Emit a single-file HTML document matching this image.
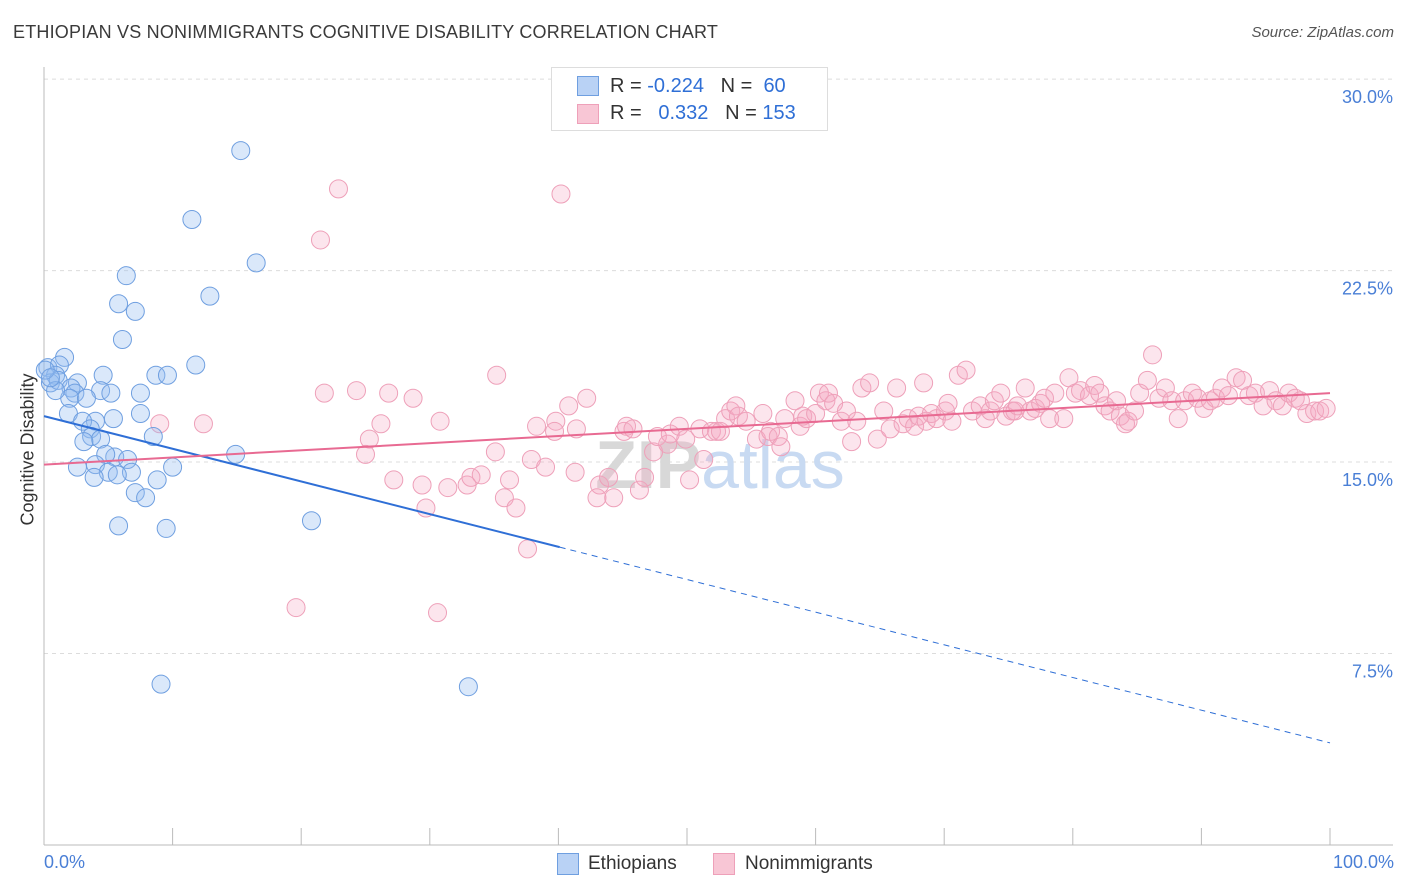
<!DOCTYPE html>
<html><head><meta charset="utf-8"><style>
body{margin:0;background:#fff;font-family:"Liberation Sans",sans-serif;}
#wrap{position:relative;width:1406px;height:892px;overflow:hidden;}
.t{position:absolute;white-space:nowrap;}
</style></head><body>
<div id="wrap">
<div class="t" style="left:13px;top:22px;font-size:18px;color:#3a3a3a;letter-spacing:0.2px">ETHIOPIAN VS NONIMMIGRANTS COGNITIVE DISABILITY CORRELATION CHART</div>
<div class="t" style="right:12px;top:24px;font-size:15px;color:#555;font-style:italic">Source: ZipAtlas.com</div>
<svg id="svg" width="1406" height="892" style="position:absolute;left:0;top:0"></svg>
</div>
<script>
const blueX=[15.3,11.5,16.5,6.4,12.9,5.8,7.1,6.1,11.8,1.6,0.3,1.2,0.9,0.5,1.1,2.6,4.6,8.7,9.6,2.1,2.4,4.4,5.2,7.5,2.0,3.3,0.9,1.9,4.0,5.4,3.0,7.5,3.6,3.7,4.4,3.1,8.5,5.5,4.8,6.5,14.9,2.6,4.0,6.8,5.0,3.9,5.7,10.0,8.8,7.1,7.9,5.8,9.5,20.8,9.1,33.0,0.1,0.5];
const blueY=[27.2,24.5,22.8,22.3,21.5,21.2,20.9,19.8,18.8,19.1,18.7,18.8,18.4,18.1,18.2,18.1,18.4,18.4,18.4,17.9,17.7,17.8,17.7,17.7,17.5,17.5,17.8,16.9,16.6,16.7,16.6,16.9,16.3,16.0,15.9,15.8,16.0,15.2,15.3,15.1,15.3,14.8,14.9,14.6,14.6,14.4,14.5,14.8,14.3,13.8,13.6,12.5,12.4,12.7,6.3,6.2,18.6,18.3];
const pinkX=[22.9,40.2,21.5,35.2,21.8,24.3,26.8,28.7,9.0,12.4,26.2,25.3,30.8,25.0,27.2,29.4,29.7,31.4,32.9,33.2,34.0,35.1,35.8,36.2,36.7,37.9,39.0,37.6,38.3,39.8,39.7,40.8,41.3,42.2,41.4,43.2,43.9,43.0,44.3,45.1,45.3,45.8,46.3,46.7,47.4,47.7,48.5,48.7,49.4,49.9,50.2,51.0,51.3,51.9,52.3,52.6,53.0,53.4,53.8,54.0,54.6,55.4,55.9,56.3,56.5,57.1,57.3,57.6,58.4,58.8,59.0,59.3,60.0,60.3,60.8,61.0,61.4,62.0,62.4,62.8,63.2,63.6,64.2,64.8,65.3,65.8,66.3,66.8,67.2,67.7,68.0,68.4,68.6,69.0,69.4,70.1,70.3,70.6,71.1,71.7,72.2,72.8,73.2,73.6,73.9,74.4,74.8,75.3,75.5,75.7,76.3,76.7,77.1,77.5,77.8,78.2,78.6,79.3,79.7,80.2,80.6,81.3,81.7,82.1,82.5,82.9,83.4,83.7,84.1,84.3,84.8,85.2,85.8,86.2,86.7,87.2,87.7,88.2,88.7,89.3,89.7,90.2,90.7,91.1,91.6,92.1,92.7,93.2,93.7,94.2,94.8,95.3,95.8,96.3,96.8,97.3,97.7,98.2,98.8,99.2,99.7,19.6,30.6];
const pinkY=[25.7,25.5,23.7,18.4,17.7,17.8,17.7,17.5,16.5,16.5,16.5,15.9,16.6,15.3,14.3,14.1,13.2,14.0,14.1,14.4,14.5,15.4,13.6,14.3,13.2,15.1,14.8,11.6,16.4,16.6,16.2,17.2,14.6,17.5,16.3,14.1,14.4,13.6,13.6,16.2,16.4,16.3,13.9,14.4,15.4,16.0,15.7,16.1,16.4,15.9,14.3,16.3,15.1,16.2,16.2,16.2,16.7,17.0,17.2,16.8,16.6,15.9,16.9,16.0,16.2,16.0,15.6,16.7,17.4,16.4,16.8,16.7,16.9,17.7,17.4,17.7,17.3,16.6,17.0,15.8,16.6,17.9,18.1,15.9,17.0,16.3,17.9,16.5,16.7,16.4,16.8,18.1,16.6,16.9,16.7,17.0,17.3,16.6,18.4,18.6,17.0,17.2,16.7,17.0,17.4,17.7,16.8,17.0,17.0,17.2,17.9,17.0,17.1,17.3,17.5,16.7,17.7,16.7,18.3,17.7,17.8,17.6,18.0,17.7,17.2,17.0,17.4,16.8,16.5,16.6,17.0,17.7,18.2,19.2,17.5,17.9,17.4,16.7,17.4,17.7,17.5,17.1,17.4,17.5,17.9,17.6,18.3,18.2,17.6,17.7,17.2,17.8,17.4,17.2,17.7,17.5,17.4,16.9,17.0,17.0,17.1,9.3,9.1];
const blueTrend=[16.8,4.0];   // y at x=0 and x=100
const blueSolidEnd=[40.1];
const pinkTrend=[14.9,17.7];
const yTicks=[30,22.5,15,7.5];
const yTickLabels=["30.0%","22.5%","15.0%","7.5%"];
const xTicks=[0,10,20,30,40,50,60,70,80,90,100];

const NS="http://www.w3.org/2000/svg";
const svg=document.getElementById('svg');
const X0=44,X1=1330,Y0=845,PPY=25.53;
const sx=v=>X0+(X1-X0)*v/100;
const sy=v=>Y0-v*PPY;
function el(tag,attrs){const e=document.createElementNS(NS,tag);for(const k in attrs)e.setAttribute(k,attrs[k]);svg.appendChild(e);return e;}

yTicks.forEach((t,i)=>{
  const g=el('line',{x1:44,x2:1393,y1:sy(t),y2:sy(t),stroke:'#dcdcdc','stroke-dasharray':'4,4','stroke-width':1});
  
  
  const tx=el('text',{x:1393,y:sy(t)+24,'text-anchor':'end','font-size':18,fill:'#4a7fd6','font-family':'Liberation Sans, sans-serif'});
  tx.textContent=yTickLabels[i];
  
  
});
const yl=el('line',{x1:44,x2:44,y1:67,y2:845,stroke:'#bbb'});


const xl=el('line',{x1:44,x2:1393,y1:845,y2:845,stroke:'#bbb'});


xTicks.forEach(t=>{
  const l=el('line',{x1:sx(t),x2:sx(t),y1:828,y2:845,stroke:'#bbb'});
  
  
});
const wm=el('text',{x:720,y:488,'text-anchor':'middle','font-size':68,'font-family':'Liberation Sans, sans-serif'});
wm.innerHTML='<tspan fill="#d8d8d8" font-weight="bold">ZIP</tspan><tspan fill="#c8daf2">atlas</tspan>';



pinkX.forEach((x,i)=>{
  const c=el('circle',{cx:sx(x),cy:sy(pinkY[i]),r:9,fill:'rgba(245,170,195,0.3)',stroke:'#eea0b9','stroke-width':1});
  
  
});
blueX.forEach((x,i)=>{
  const c=el('circle',{cx:sx(x),cy:sy(blueY[i]),r:9,fill:'rgba(150,190,240,0.35)',stroke:'#6f9fe0','stroke-width':1});
  
  
});
const by=x=>blueTrend[0]+(blueTrend[1]-blueTrend[0])*x/100;
const bs=el('line',{x1:sx(0),y1:sy(by(0)),x2:sx(blueSolidEnd[0]),y2:sy(by(blueSolidEnd[0])),stroke:'#2f6fd6','stroke-width':2});


const bd=el('line',{x1:sx(blueSolidEnd[0]),y1:sy(by(blueSolidEnd[0])),x2:sx(100),y2:sy(by(100)),stroke:'#2f6fd6','stroke-width':1,'stroke-dasharray':'6,5'});


const pl=el('line',{x1:sx(0),y1:sy(pinkTrend[0]),x2:sx(100),y2:sy(pinkTrend[1]),stroke:'#e86a92','stroke-width':2});


</script>
<div class="t" style="left:-42px;top:445px;font-size:18px;color:#333;transform:rotate(-90deg);transform-origin:center;width:140px;text-align:center">Cognitive Disability</div>
<div class="t" style="left:44px;top:852px;font-size:18px;color:#4a7fd6">0.0%</div>
<div class="t" style="right:12px;top:852px;font-size:18px;color:#4a7fd6">100.0%</div>
<div style="position:absolute;left:551px;top:67px;width:275px;height:62px;border:1px solid #ddd;background:#fff;font-size:20px;color:#333">
  <div style="position:absolute;left:25px;top:8px;width:20px;height:18px;background:#b9d2f5;border:1px solid #6f9fe0"></div>
  <div class="t" style="left:58px;top:7px">R = <span style="color:#2f6fd6">-0.224</span>&nbsp;&nbsp;&nbsp;N = &nbsp;<span style="color:#2f6fd6">60</span></div>
  <div style="position:absolute;left:25px;top:36px;width:20px;height:18px;background:#f8c6d5;border:1px solid #eea0b9"></div>
  <div class="t" style="left:58px;top:34px">R = &nbsp;&nbsp;<span style="color:#2f6fd6">0.332</span>&nbsp;&nbsp;&nbsp;N = <span style="color:#2f6fd6">153</span></div>
</div>
<div style="position:absolute;left:557px;top:853px;width:20px;height:20px;background:#b9d2f5;border:1px solid #6f9fe0"></div>
<div class="t" style="left:588px;top:853px;font-size:19px;color:#333">Ethiopians</div>
<div style="position:absolute;left:713px;top:853px;width:20px;height:20px;background:#f8c6d5;border:1px solid #eea0b9"></div>
<div class="t" style="left:745px;top:853px;font-size:19px;color:#333">Nonimmigrants</div>
</body></html>
